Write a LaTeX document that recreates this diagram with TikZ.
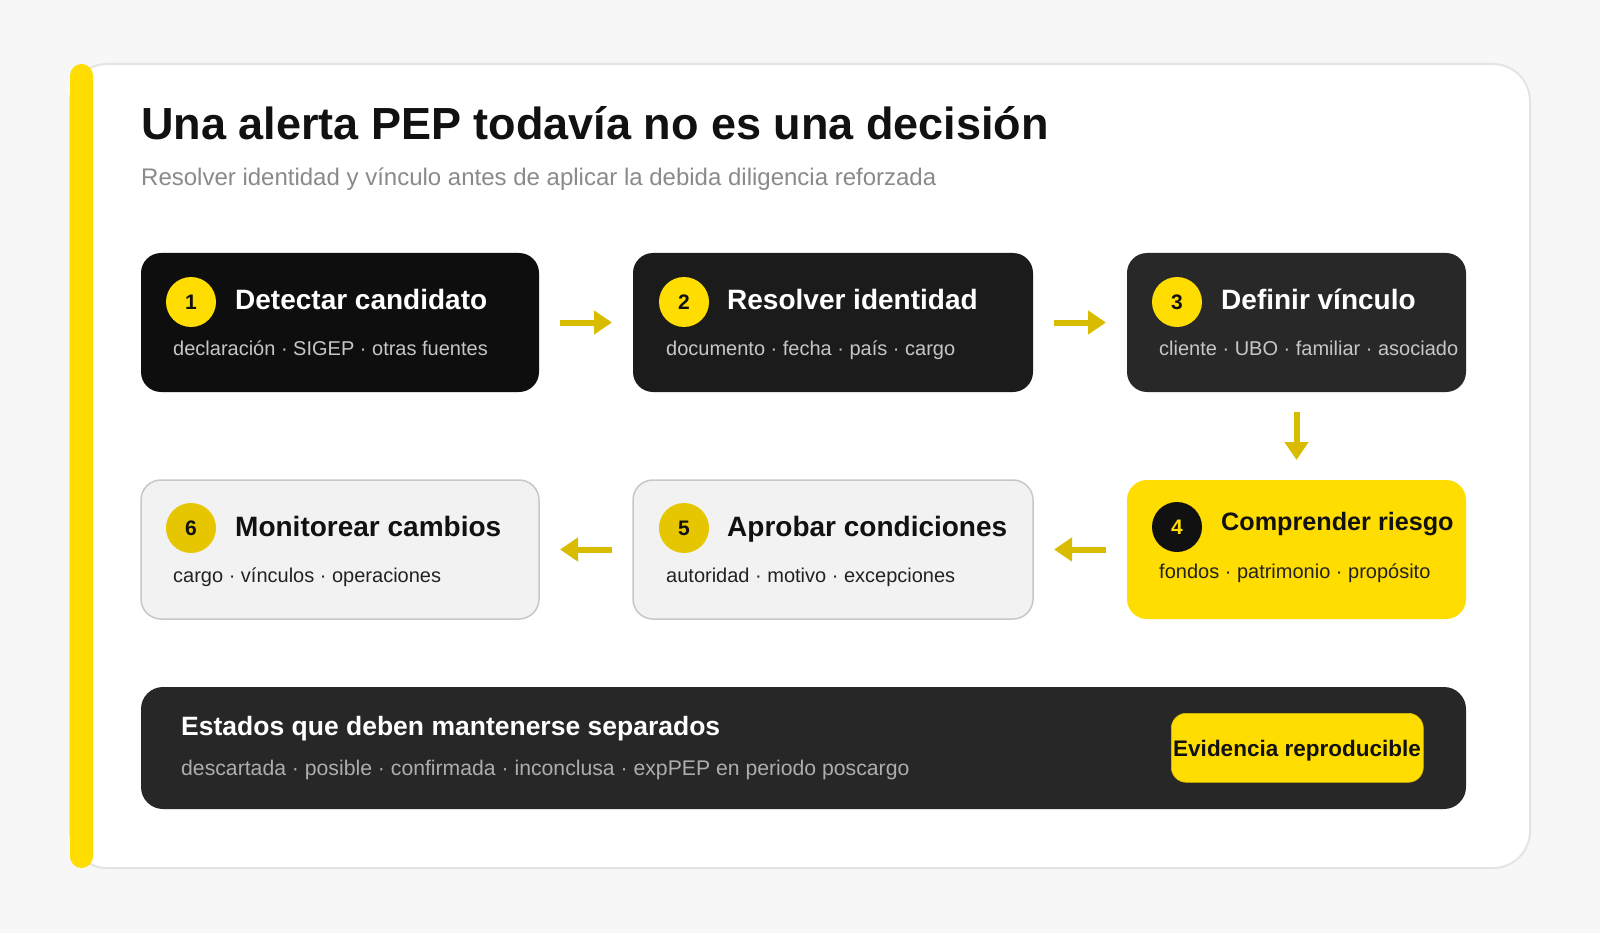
\documentclass[tikz,border=0pt]{standalone}
\usepackage{fontspec}
\setmainfont{Liberation Sans}
\usetikzlibrary{arrows.meta}
\definecolor{pagebg}{HTML}{F7F7F7}
\definecolor{cardline}{HTML}{E4E4E4}
\definecolor{ylw}{HTML}{FFDD00}
\definecolor{ylwdark}{HTML}{E6C600}
\definecolor{arrowc}{HTML}{D9BC00}
\definecolor{dk1}{HTML}{0E0E0E}
\definecolor{dk2}{HTML}{1B1B1B}
\definecolor{dk3}{HTML}{282828}
\definecolor{dkbar}{HTML}{272727}
\definecolor{lightbox}{HTML}{F2F2F2}
\definecolor{lightline}{HTML}{C8C8C3}
\definecolor{titlec}{HTML}{111111}
\definecolor{subtitlec}{HTML}{8A8A8A}
\definecolor{subdark}{HTML}{C6C6C6}
\definecolor{sublight}{HTML}{222222}
\definecolor{subbar}{HTML}{ADADAD}
\begin{document}
\begin{tikzpicture}[x=1pt,y=-1pt,
  stepbox/.style={rectangle, rounded corners=20pt, anchor=north west, inner sep=0pt, outer sep=0pt, minimum height=139pt},
  numdot/.style={circle, minimum size=50pt, inner sep=0pt, outer sep=0pt, font=\fontsize{21}{21}\selectfont\bfseries},
  ttl/.style={anchor=base west, inner sep=0pt, font=\fontsize{28}{28}\selectfont\bfseries},
  subt/.style={anchor=base west, inner sep=0pt, font=\fontsize{20}{20}\selectfont},
  arr/.style={draw=arrowc, line width=6pt, -{Triangle[length=18pt,width=23pt]}, shorten <=21pt, shorten >=21pt}
]
\useasboundingbox (0,0) rectangle (1600,933);
\fill[pagebg] (0,0) rectangle (1600,933);
% card
\draw[fill=white, draw=cardline, line width=2pt, rounded corners=37pt] (70,64) rectangle (1530,868);
\fill[ylw, rounded corners=11.5pt] (70,64) rectangle (93,868);
% title
\node[anchor=base west, inner sep=0pt, text=titlec, font=\fontsize{45}{45}\selectfont\bfseries] (title) at (141,140) {Una alerta PEP todavía no es una decisión};
\node[anchor=base west, inner sep=0pt, text=subtitlec, font=\fontsize{24}{24}\selectfont] (subtitle) at (141,186) {Resolver identidad y vínculo antes de aplicar la debida diligencia reforzada};
% row 1
\node[stepbox, fill=dk1, minimum width=398pt] (b1) at (141,253) {};
\node[stepbox, fill=dk2, minimum width=400pt] (b2) at (633,253) {};
\node[stepbox, fill=dk3, minimum width=339pt] (b3) at (1127,253) {};
% row 2
\node[stepbox, fill=ylw, minimum width=339pt] (b4) at (1127,480) {};
\node[stepbox, fill=lightbox, draw=lightline, line width=1.5pt, minimum width=400pt] (b5) at (633,480) {};
\node[stepbox, fill=lightbox, draw=lightline, line width=1.5pt, minimum width=398pt] (b6) at (141,480) {};
% box 1
\node[numdot, fill=ylw, text=titlec] (n1) at (191,302) {1};
\node[ttl, text=white] (t1) at (235,309) {Detectar candidato};
\node[subt, text=subdark] (s1) at (173,355) {declaración · SIGEP · otras fuentes};
% box 2
\node[numdot, fill=ylw, text=titlec] (n2) at (684,302) {2};
\node[ttl, text=white] (t2) at (727,309) {Resolver identidad};
\node[subt, text=subdark] (s2) at (666,355) {documento · fecha · país · cargo};
% box 3
\node[numdot, fill=ylw, text=titlec] (n3) at (1177,302) {3};
\node[ttl, text=white] (t3) at (1221,309) {Definir vínculo};
\node[subt, text=subdark] (s3) at (1159,355) {cliente · UBO · familiar · asociado};
% box 4
\node[numdot, fill=titlec, text=ylw] (n4) at (1177,527) {4};
\node[ttl, text=titlec, font=\fontsize{25.2}{25.2}\selectfont\bfseries] (t4) at (1221,530) {Comprender riesgo};
\node[subt, text=sublight] (s4) at (1159,578) {fondos · patrimonio · propósito};
% box 5
\node[numdot, fill=ylwdark, text=titlec] (n5) at (684,528) {5};
\node[ttl, text=titlec] (t5) at (727,536) {Aprobar condiciones};
\node[subt, text=sublight] (s5) at (666,582) {autoridad · motivo · excepciones};
% box 6
\node[numdot, fill=ylwdark, text=titlec] (n6) at (191,528) {6};
\node[ttl, text=titlec] (t6) at (235,536) {Monitorear cambios};
\node[subt, text=sublight] (s6) at (173,582) {cargo · vínculos · operaciones};
% arrows
\draw[arr] (b1.east) -- (b2.west);
\draw[arr] (b2.east) -- (b3.west);
\draw[arr, shorten <=20pt, shorten >=20pt] (b3.south) -- (b4.north);
\draw[arr] (b4.west) -- (b5.east);
\draw[arr] (b5.west) -- (b6.east);
% bottom bar
\node[rectangle, rounded corners=22pt, anchor=north west, fill=dkbar, inner sep=0pt, outer sep=0pt, minimum width=1325pt, minimum height=122pt] (bar) at (141,687) {};
\node[anchor=base west, inner sep=0pt, text=white, font=\fontsize{26.5}{26.5}\selectfont\bfseries] (bt) at (181,735) {Estados que deben mantenerse separados};
\node[anchor=base west, inner sep=0pt, text=subbar, font=\fontsize{21.2}{21.2}\selectfont] (bs) at (181,775) {descartada · posible · confirmada · inconclusa · expPEP en periodo poscargo};
\node[rectangle, rounded corners=15pt, anchor=north west, fill=ylw, draw=arrowc, line width=0.6pt, inner sep=0pt, minimum width=252pt, minimum height=69pt] (pill) at (1171,713) {};
\node[anchor=base, inner sep=0pt, text=titlec, font=\fontsize{22.5}{22.5}\selectfont\bfseries] (pt) at (1297,756) {Evidencia reproducible};
\end{tikzpicture}
\end{document}
